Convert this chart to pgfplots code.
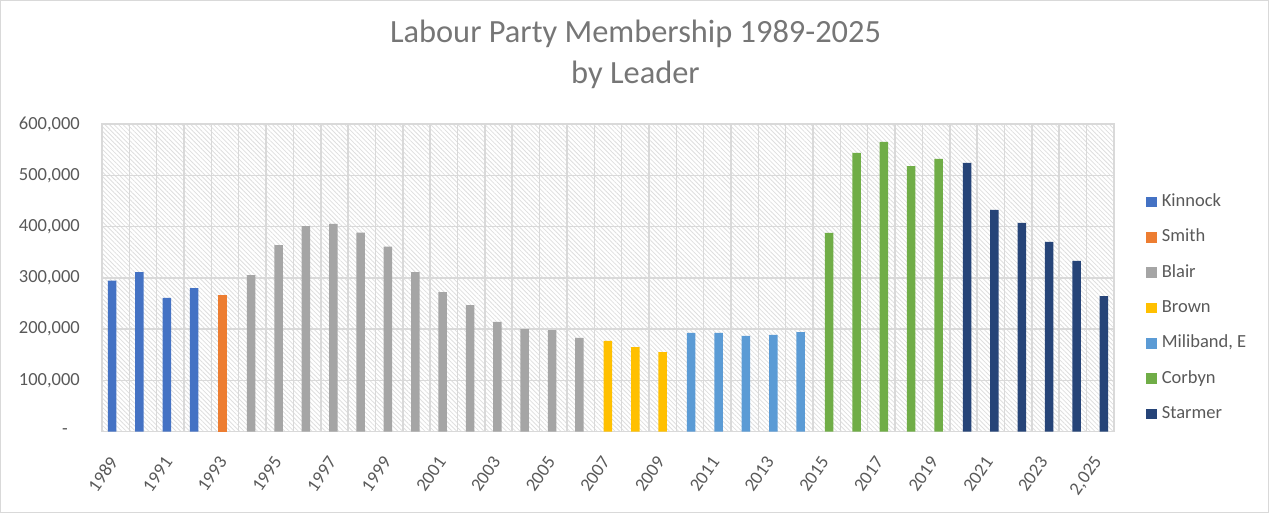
\documentclass[border=0pt]{standalone}
\usepackage{fontspec}
\setmainfont{Carlito}
\usepackage{pgfplots}
\pgfplotsset{compat=1.18}
\usetikzlibrary{patterns.meta}
\definecolor{cKin}{HTML}{4472C4}
\definecolor{cSmi}{HTML}{ED7D31}
\definecolor{cBla}{HTML}{A5A5A5}
\definecolor{cBro}{HTML}{FFC000}
\definecolor{cMil}{HTML}{5B9BD5}
\definecolor{cCor}{HTML}{70AD47}
\definecolor{cSta}{HTML}{264478}
\definecolor{gridc}{HTML}{D9D9D9}
\definecolor{hatchc}{HTML}{DEDEDE}
\definecolor{tickc}{HTML}{595959}
\definecolor{titlec}{HTML}{767676}
\begin{document}
\begin{tikzpicture}
\useasboundingbox (-102pt,-81.3pt) rectangle (1167pt,431.7pt);
\draw[gridc, line width=1pt] (-101.5pt,-80.8pt) rectangle (1166.5pt,431.2pt);
\begin{axis}[
  at={(0,0)}, anchor=south west,
  scale only axis, width=1012pt, height=307.7pt,
  ybar, bar width=8.5pt,
  xmin=1988.5, xmax=2025.5, ymin=0, ymax=600000,
  xtick={1989,1991,...,2025},
  xticklabels={1989,1991,1993,1995,1997,1999,2001,2003,2005,2007,2009,2011,2013,2015,2017,2019,2021,2023,{2,025}},
  minor xtick={1988.5,1989.5,...,2025.5},
  ytick={0,100000,...,600000},
  yticklabels={{-\rule{12pt}{0pt}},{100,000},{200,000},{300,000},{400,000},{500,000},{600,000}},
  scaled y ticks=false,
  major tick length=0pt, minor tick length=0pt,
  ymajorgrids, xminorgrids,
  major grid style={draw=gridc, line width=1.5pt},
  minor grid style={draw=gridc, line width=1.5pt},
  axis line style={draw=gridc, line width=1.5pt},
  axis background/.style={pattern={Lines[angle=-45,distance=3.2pt,line width=0.8pt]}, pattern color=hatchc},
  yticklabel style={font=\fontsize{18.5}{20}\selectfont, text=tickc, anchor=east, inner sep=0pt, xshift=-22pt},
  xticklabel style={font=\fontsize{18.5}{20}\selectfont, text=tickc, yshift=-27pt, xshift=-2pt, rotate=55, anchor=east, inner sep=0pt},
  legend style={at={(1.0316,0.402)}, anchor=west, draw=none, fill=none, inner sep=0pt,
    font=\fontsize{18.5}{20}\selectfont, text=tickc,
    nodes={text height=13pt, text depth=4pt, inner sep=0pt},
    row sep=18.3pt},
  legend cell align=left,
  /tikz/every even column/.append style={column sep=0pt},
  legsq/.style={legend image code/.code={\fill[##1, draw=none] (0pt,-5.35pt) rectangle (10.7pt,5.35pt);}},
]
\addplot[fill=cKin, draw=none, bar shift=-3.6pt, legsq] coordinates {(1989,294500) (1990,311000) (1991,261000) (1992,280000)};
\addplot[fill=cSmi, draw=none, bar shift=-2.4pt, legsq] coordinates {(1993,266500)};
\addplot[fill=cBla, draw=none, bar shift=-1.2pt, legsq] coordinates {(1994,305500) (1995,364000) (1996,401000) (1997,405000) (1998,388000) (1999,361000) (2000,311000) (2001,272000) (2002,247000) (2003,214000) (2004,200000) (2005,198000) (2006,183000)};
\addplot[fill=cBro, draw=none, bar shift=0pt, legsq] coordinates {(2007,177000) (2008,165000) (2009,155000)};
\addplot[fill=cMil, draw=none, bar shift=1.2pt, legsq] coordinates {(2010,192500) (2011,192500) (2012,187000) (2013,189000) (2014,194000)};
\addplot[fill=cCor, draw=none, bar shift=2.4pt, legsq] coordinates {(2015,387500) (2016,543500) (2017,565000) (2018,518000) (2019,532000)};
\addplot[fill=cSta, draw=none, bar shift=3.6pt, legsq] coordinates {(2020,524000) (2021,432500) (2022,407000) (2023,370000) (2024,333000) (2025,264500)};
\legend{\hspace{5pt}Kinnock,\hspace{5pt}Smith,\hspace{5pt}Blair,\hspace{5pt}Brown,\hspace{5pt}{Miliband, E},\hspace{5pt}Corbyn,\hspace{5pt}Starmer}
\end{axis}
\node[anchor=base, font=\fontsize{32.4}{34}\selectfont, text=titlec] at (533.5pt,389.4pt) {Labour Party Membership 1989-2025};
\node[anchor=base, font=\fontsize{32.4}{34}\selectfont, text=titlec] at (533.5pt,348.4pt) {by Leader};
\end{tikzpicture}
\end{document}
